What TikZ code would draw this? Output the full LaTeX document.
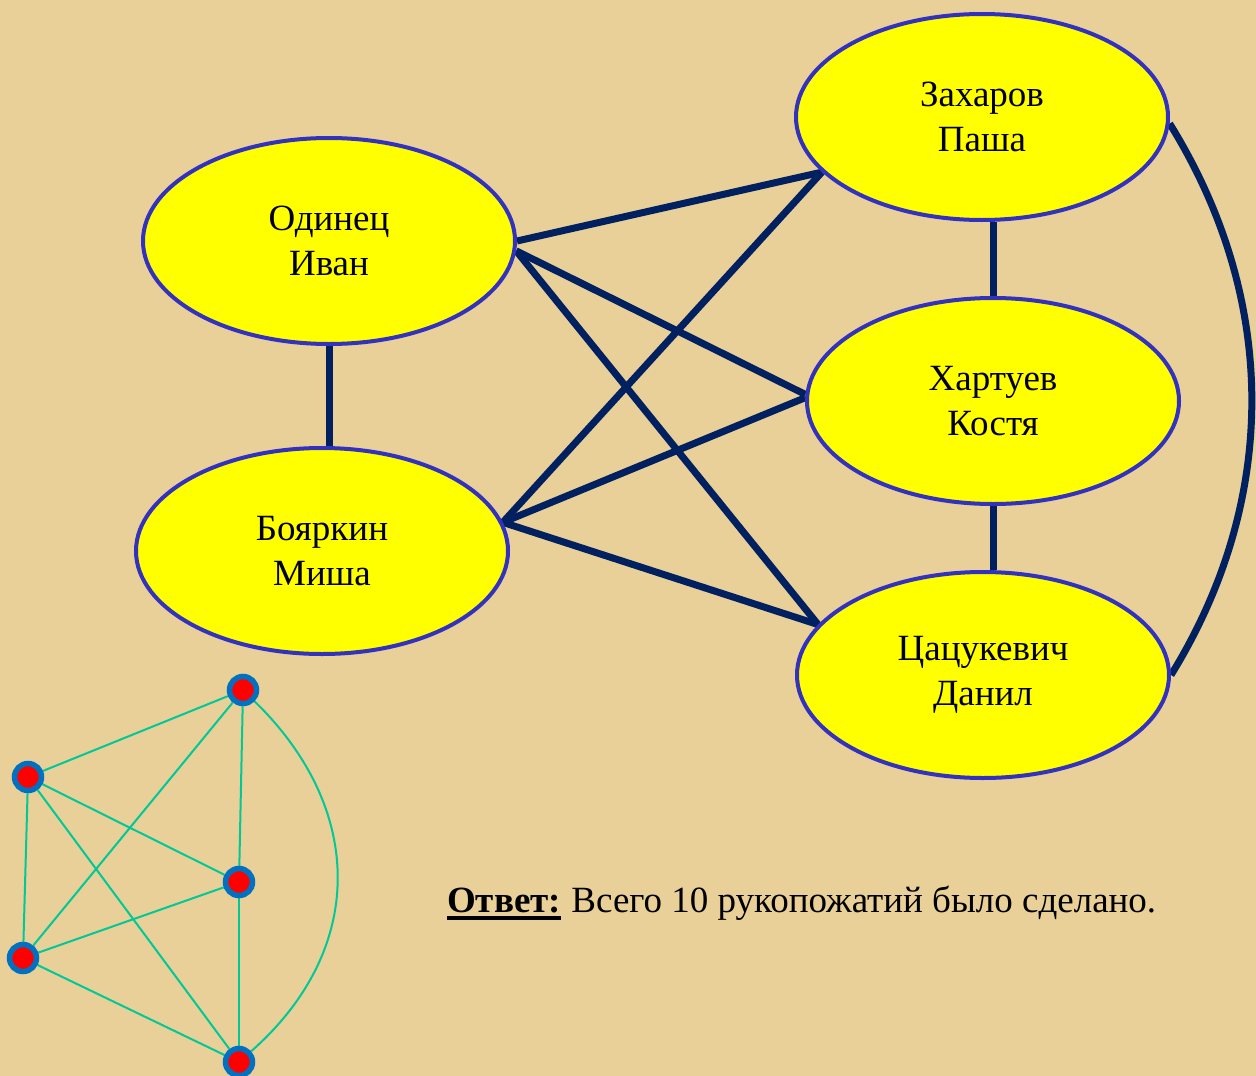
\documentclass[tikz,border=0pt]{standalone}
\usepackage{fontspec}
\setmainfont{Liberation Serif}
\usetikzlibrary{shapes.geometric}
\definecolor{parchment}{RGB}{232,208,152}
\definecolor{nodefill}{RGB}{255,255,0}
\definecolor{nodeline}{RGB}{50,50,190}
\definecolor{edgeblue}{RGB}{0,32,96}
\definecolor{dotring}{RGB}{0,112,192}
\definecolor{dotedge}{RGB}{0,200,150}
\pgfdeclarelayer{paper}
\pgfdeclarelayer{links}
\pgfsetlayers{paper,links,main}
\tikzset{
  person/.style={ellipse, draw=nodeline, fill=nodefill, line width=4pt,
    minimum width=372pt, minimum height=206pt, inner sep=0pt,
    align=center, font=\fontsize{37}{45}\selectfont},
  shake/.style={draw=edgeblue, line width=7pt},
  dot/.style={circle, fill=red, draw=dotring, line width=5.5pt,
    minimum size=27pt, inner sep=0pt},
  dotlink/.style={draw=dotedge, line width=2pt},
}
\begin{document}
\begin{tikzpicture}[x=1pt,y=-1pt]
\useasboundingbox (0,0) rectangle (1256,1076);
\begin{pgfonlayer}{paper}
  \fill[parchment] (0,0) rectangle (1256,1076);
\end{pgfonlayer}

% people
\node[person] (odin) at (329,241) {Одинец\\Иван};
\node[person] (boya) at (322,551) {Бояркин\\Миша};
\node[person] (zakh) at (982,117) {Захаров\\Паша};
\node[person] (khar) at (993,401) {Хартуев\\Костя};
\node[person] (tsat) at (983,675) {Цацукевич\\Данил};

% handshakes
\begin{pgfonlayer}{links}
  \draw[shake] (odin.0) -- (zakh.199);
  \draw[shake] (odin.-3) -- (khar.178);
  \draw[shake] (odin.-3) -- (tsat.163);
  \draw[shake] (odin.south) -- (boya.north -| odin.south);
  \draw[shake] (boya.9) -- (zakh.199);
  \draw[shake] (boya.9) -- (khar.179);
  \draw[shake] (boya.9) -- (tsat.163);
  \draw[shake] (zakh.south -| khar.north) -- (khar.north);
  \draw[shake] (khar.south) -- (tsat.north -| khar.south);
  \draw[shake] (zakh.-2) .. controls (1279,300) and (1279,500) .. (tsat.0);
\end{pgfonlayer}

% small scheme of the same graph
\node[dot] (a) at (243,690) {};
\node[dot] (b) at (28,777) {};
\node[dot] (c) at (239,882) {};
\node[dot] (d) at (23,958) {};
\node[dot] (e) at (239,1062) {};
\begin{pgfonlayer}{links}
  \draw[dotlink] (a) -- (b);
  \draw[dotlink] (a) -- (d);
  \draw[dotlink] (a) -- (c);
  \draw[dotlink] (a) .. controls (366,810) and (366,950) .. (e);
  \draw[dotlink] (b) -- (c);
  \draw[dotlink] (b) -- (e);
  \draw[dotlink] (b) -- (d);
  \draw[dotlink] (d) -- (c);
  \draw[dotlink] (d) -- (e);
  \draw[dotlink] (c) -- (e);
\end{pgfonlayer}

% answer
\node[anchor=base west, inner sep=0pt, font=\fontsize{37}{44}\selectfont\bfseries]
  (anslabel) at (447,912) {Ответ:};
\draw[line width=3.5pt] ([yshift=-6pt]anslabel.base west) -- ([yshift=-6pt]anslabel.base east);
\node[anchor=base west, inner sep=0pt, font=\fontsize{37}{44}\selectfont]
  (anstext) at ([xshift=10pt]anslabel.base east) {Всего 10 рукопожатий было сделано.};
\end{tikzpicture}
\end{document}
